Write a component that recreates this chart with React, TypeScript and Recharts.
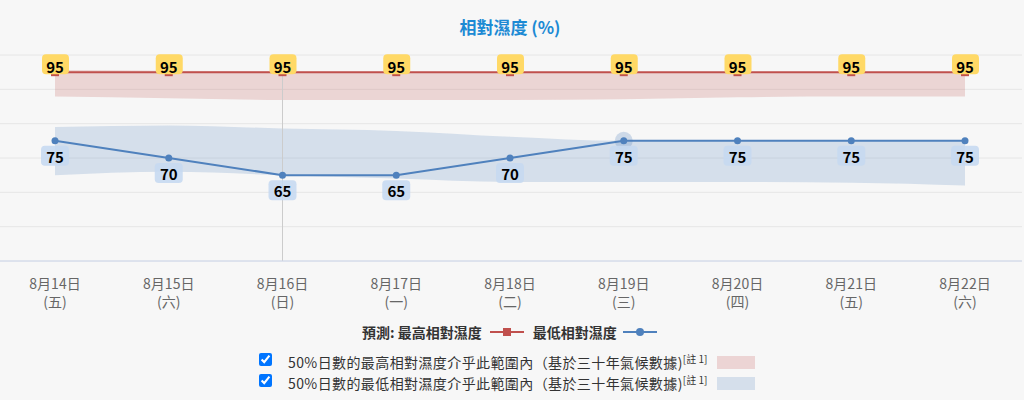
import {
  ComposedChart,
  Area,
  Line,
  XAxis,
  YAxis,
  CartesianGrid,
  LabelList,
  ReferenceLine,
} from "recharts";

const dates = ["8月14日", "8月15日", "8月16日", "8月17日", "8月18日", "8月19日", "8月20日", "8月21日", "8月22日"];
const weekdays = ["五", "六", "日", "一", "二", "三", "四", "五", "六"];

// forecast max / min relative humidity (%)
const maxRh = [95, 95, 95, 95, 95, 95, 95, 95, 95];
const minRh = [75, 70, 65, 65, 70, 75, 75, 75, 75];

// 50% climatological ranges
const maxBandLow = [87.9, 87.4, 86.9, 86.9, 86.9, 87.1, 87.7, 87.9, 87.9];
const maxBandHigh = [95.6, 95.4, 95.2, 95.1, 95, 95, 95, 95, 95];
const minBandLow = [65, 66, 65, 64, 63, 63, 63, 62.8, 62];
const minBandHigh = [79, 79.5, 78.6, 77.9, 76.2, 75, 75, 75, 75];

const yTicks = [40, 50, 60, 70, 80, 90, 100];

const rows = dates.map((d, i) => ({
  date: d,
  max: maxRh[i],
  min: minRh[i],
  maxRange: [maxBandLow[i], maxBandHigh[i]],
  minRange: [minBandLow[i], minBandHigh[i]],
}));

const FONT = '"Noto Sans CJK TC", "Noto Sans", sans-serif';
const RED = "#c0504d";
const BLUE = "#4f81bd";

function DateTick(props: any) {
  const { x, y, payload, index } = props;
  return (
    <g>
      <text x={x} y={y + 20} textAnchor="middle" fontSize={14} fill="#666" fontFamily={FONT}>
        {payload.value}
      </text>
      <text x={x} y={y + 38} textAnchor="middle" fontSize={14} fill="#666" fontFamily={FONT}>
        ({weekdays[index]})
      </text>
    </g>
  );
}

function MaxLabel(props: any) {
  const { x, y, value } = props;
  return (
    <g>
      <rect x={x - 13} y={y - 18} width={27} height={20} rx={4} fill="#ffd966" />
      <text x={x} y={y + 1} textAnchor="middle" fontSize={15} fontWeight="bold" fill="#000" fontFamily={FONT}>
        {value}
      </text>
    </g>
  );
}

function MinLabel(props: any) {
  const { x, y, value } = props;
  return (
    <g>
      <rect x={x - 14} y={y + 5} width={28} height={20} rx={4} fill="#c6d9f1" fillOpacity={0.9} />
      <text x={x} y={y + 22} textAnchor="middle" fontSize={15} fontWeight="bold" fill="#000" fontFamily={FONT}>
        {value}
      </text>
    </g>
  );
}

function SquareDot(props: any) {
  const { cx, cy } = props;
  return <rect x={cx - 4} y={cy - 4} width={8} height={8} fill={RED} />;
}

function CircleDot(props: any) {
  const { cx, cy, index } = props;
  return (
    <g>
      {index === 5 && <circle cx={cx} cy={cy} r={9} fill={BLUE} fillOpacity={0.25} />}
      <circle cx={cx} cy={cy} r={3.5} fill={BLUE} />
    </g>
  );
}

export default function App() {
  return (
    <div
      style={{
        position: "fixed",
        top: 0,
        left: 0,
        width: 1024,
        height: 400,
        background: "#f7f7f7",
        fontFamily: FONT,
        overflow: "hidden",
      }}
    >
      <div
        style={{
          position: "absolute",
          top: 14,
          left: 0,
          width: 1020,
          textAlign: "center",
          fontSize: 17,
          fontWeight: "bold",
          color: "#1c8ad4",
        }}
      >
        相對濕度 (%)
      </div>

      <div style={{ position: "absolute", top: 0, left: 0 }}>
        <ComposedChart
          width={1024}
          height={312}
          data={rows}
          margin={{ top: 55, right: 2, bottom: 0, left: 0 }}
        >
          <CartesianGrid vertical={false} stroke="#e6e6e6" />
          <XAxis
            dataKey="date"
            height={51}
            padding={{ left: 55, right: 57 }}
            axisLine={{ stroke: "#ccd6eb" }}
            tickLine={false}
            interval={0}
            tick={<DateTick />}
          />
          <YAxis hide domain={[40, 100]} ticks={yTicks} />
          <Area
            dataKey="maxRange"
            type="monotone"
            stroke="none"
            fill={RED}
            fillOpacity={0.2}
            dot={false}
            activeDot={false}
            isAnimationActive={false}
          />
          <Area
            dataKey="minRange"
            type="monotone"
            stroke="none"
            fill={BLUE}
            fillOpacity={0.2}
            dot={false}
            activeDot={false}
            isAnimationActive={false}
          />
          <ReferenceLine
            segment={[
              { x: dates[2], y: 95 },
              { x: dates[2], y: 40 },
            ]}
            stroke="#cccccc"
            strokeWidth={1}
          />
          <Line
            dataKey="max"
            type="linear"
            stroke={RED}
            strokeWidth={2}
            dot={<SquareDot />}
            activeDot={false}
            isAnimationActive={false}
          >
            <LabelList dataKey="max" content={<MaxLabel />} />
          </Line>
          <Line
            dataKey="min"
            type="linear"
            stroke={BLUE}
            strokeWidth={2}
            dot={<CircleDot />}
            activeDot={false}
            isAnimationActive={false}
          >
            <LabelList dataKey="min" content={<MinLabel />} />
          </Line>
        </ComposedChart>
      </div>

      {/* legend */}
      <div
        style={{
          position: "absolute",
          top: 322,
          left: 362,
          display: "flex",
          alignItems: "center",
          fontSize: 14,
          fontWeight: "bold",
          color: "#333",
          whiteSpace: "nowrap",
          lineHeight: "20px",
        }}
      >
        <span>預測: 最高相對濕度</span>
        <svg width={34} height={12} style={{ marginLeft: 8 }}>
          <line x1={0} y1={6} x2={34} y2={6} stroke={RED} strokeWidth={2} />
          <rect x={13} y={2} width={8} height={8} fill={RED} />
        </svg>
        <span style={{ marginLeft: 9 }}>最低相對濕度</span>
        <svg width={34} height={12} style={{ marginLeft: 6 }}>
          <line x1={0} y1={6} x2={34} y2={6} stroke={BLUE} strokeWidth={2} />
          <circle cx={17} cy={6} r={4} fill={BLUE} />
        </svg>
      </div>

      {/* climatology toggles */}
      {[
        { text: "50%日數的最高相對濕度介乎此範圍內（基於三十年氣候數據)", color: "#ecd4d4", top: 352 },
        { text: "50%日數的最低相對濕度介乎此範圍內（基於三十年氣候數據)", color: "#d5dfeb", top: 373 },
      ].map((r) => (
        <div
          key={r.top}
          style={{
            position: "absolute",
            top: r.top,
            left: 0,
            height: 21,
            width: 1024,
            fontSize: 14,
            color: "#333",
            whiteSpace: "nowrap",
          }}
        >
          <input
            type="checkbox"
            checked
            readOnly
            style={{ position: "absolute", left: 259, top: 1, margin: 0, width: 13, height: 13 }}
          />
          <span style={{ position: "absolute", left: 288, top: 0, lineHeight: "20px", letterSpacing: 0.4 }}>
            {r.text}
            <sup style={{ fontSize: 10, verticalAlign: "top", position: "relative", top: -3, letterSpacing: 0 }}>
              [註 1]
            </sup>
          </span>
          <div
            style={{
              position: "absolute",
              left: 717,
              top: 4,
              width: 38,
              height: 13,
              background: r.color,
            }}
          />
        </div>
      ))}
    </div>
  );
}
